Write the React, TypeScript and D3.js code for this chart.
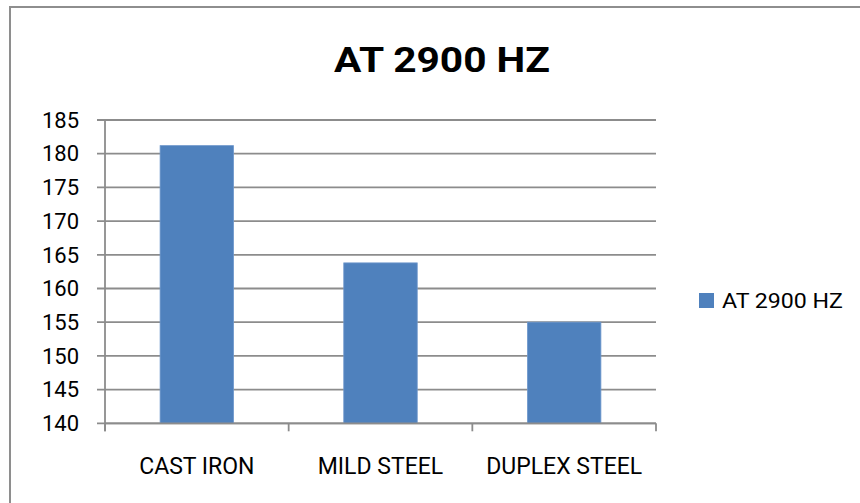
import * as d3 from "d3";
import { useEffect, useRef } from "react";

const categories = ["CAST IRON", "MILD STEEL", "DUPLEX STEEL"];
const values = [181.2, 163.8, 155.0];
const yTicks = [140, 145, 150, 155, 160, 165, 170, 175, 180, 185];
const seriesName = "AT 2900 HZ";
const title = "AT 2900 HZ";

const BarChart = ({ width = 860, height = 503 }) => {
  const ref = useRef(null);

  useEffect(() => {
    const svg = d3.select(ref.current);
    svg.selectAll("*").remove();

    const font = "Roboto, 'Liberation Sans', sans-serif";
    const gridColor = "#8c8c8c";
    const barColor = "#4f81bd";

    const left = 105;
    const right = 656;
    const top = 120;
    const bottom = 423.3;

    const x = d3
      .scaleBand()
      .domain(categories)
      .range([left, right])
      .paddingInner(0.6)
      .paddingOuter(0.3);

    const y = d3.scaleLinear().domain([140, 185]).range([bottom, top]);

    // outer chart border (runs off the bottom/right of the picture)
    svg
      .append("rect")
      .attr("x", 10)
      .attr("y", 7)
      .attr("width", width + 20)
      .attr("height", height + 20)
      .attr("fill", "#fff")
      .attr("stroke", "#8e8e8e")
      .attr("stroke-width", 2);

    svg
      .append("text")
      .text(title)
      .attr("x", 442)
      .attr("y", 72)
      .attr("text-anchor", "middle")
      .attr("font-family", font)
      .attr("font-weight", "bold")
      .attr("font-size", 35)
      .attr("textLength", 216)
      .attr("lengthAdjust", "spacingAndGlyphs")
      .attr("fill", "#000");

    // gridlines + y tick marks
    svg
      .append("g")
      .selectAll("line")
      .data(yTicks)
      .join("line")
      .attr("x1", left - 8)
      .attr("x2", right)
      .attr("y1", (d) => y(d))
      .attr("y2", (d) => y(d))
      .attr("stroke", gridColor)
      .attr("stroke-width", 1.8);

    svg
      .append("g")
      .selectAll("text")
      .data(yTicks)
      .join("text")
      .text((d) => d)
      .attr("x", 79)
      .attr("y", (d) => y(d))
      .attr("dy", "0.35em")
      .attr("text-anchor", "end")
      .attr("font-family", font)
      .attr("font-size", 22)
      .attr("fill", "#000");

    // bars
    svg
      .append("g")
      .selectAll("rect")
      .data(values)
      .join("rect")
      .attr("x", (d, i) => x(categories[i]))
      .attr("y", (d) => y(d))
      .attr("width", x.bandwidth())
      .attr("height", (d) => y(140) - y(d))
      .attr("fill", barColor)
      .attr("stroke", "#6f98cc")
      .attr("stroke-width", 0.8);

    // axes
    svg
      .append("line")
      .attr("x1", left)
      .attr("x2", left)
      .attr("y1", top)
      .attr("y2", bottom + 8)
      .attr("stroke", gridColor)
      .attr("stroke-width", 1.8);

    svg
      .append("line")
      .attr("x1", left)
      .attr("x2", right)
      .attr("y1", bottom)
      .attr("y2", bottom)
      .attr("stroke", gridColor)
      .attr("stroke-width", 1.8);

    const boundaries = categories.map((c) => x(c) - (x.step() * x.paddingInner()) / 2);
    boundaries.push(right);
    boundaries[0] = left;

    svg
      .append("g")
      .selectAll("line")
      .data(boundaries)
      .join("line")
      .attr("x1", (d) => d)
      .attr("x2", (d) => d)
      .attr("y1", bottom)
      .attr("y2", bottom + 8)
      .attr("stroke", gridColor)
      .attr("stroke-width", 1.8);

    svg
      .append("g")
      .selectAll("text")
      .data(categories)
      .join("text")
      .text((d) => d)
      .attr("x", (d) => x(d) + x.bandwidth() / 2)
      .attr("y", 474)
      .attr("text-anchor", "middle")
      .attr("font-family", font)
      .attr("font-size", 23)
      .attr("fill", "#000");

    // legend
    const legend = svg.append("g").attr("transform", "translate(699,293)");
    legend
      .append("rect")
      .attr("width", 15)
      .attr("height", 15)
      .attr("fill", barColor);
    legend
      .append("text")
      .text(seriesName)
      .attr("x", 23)
      .attr("y", 7.5)
      .attr("dy", "0.35em")
      .attr("font-family", font)
      .attr("font-size", 20)
      .attr("textLength", 121)
      .attr("lengthAdjust", "spacingAndGlyphs")
      .attr("fill", "#000");
  }, [width, height]);

  return (
    <svg
      ref={ref}
      width={width}
      height={height}
      style={{ position: "absolute", left: 0, top: 0, background: "#fff" }}
    />
  );
};

export default function App() {
  return <BarChart />;
}
